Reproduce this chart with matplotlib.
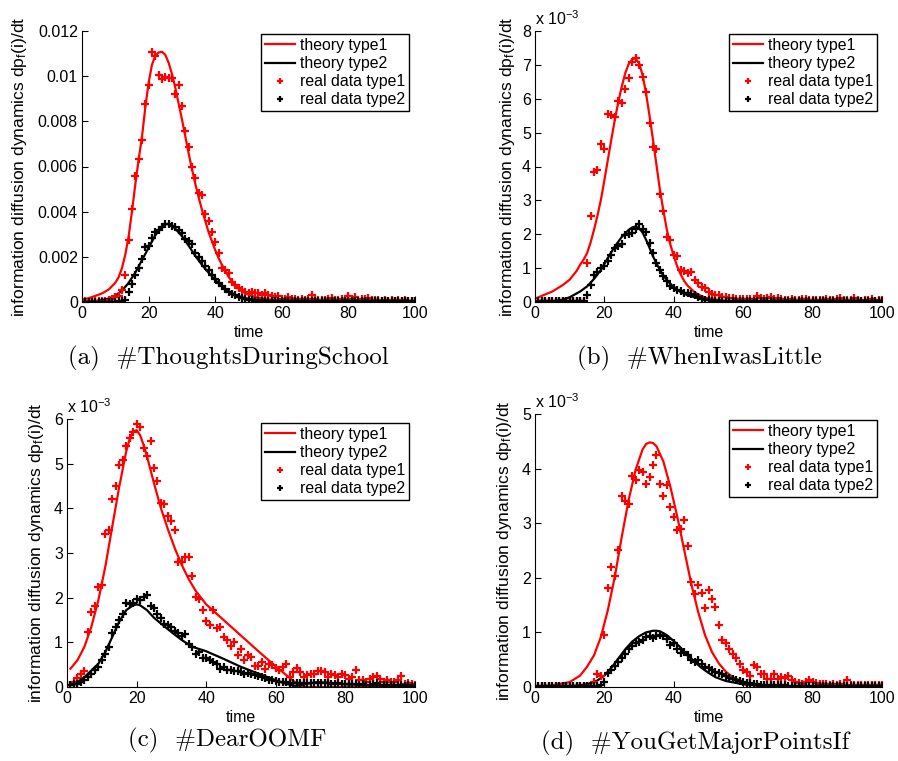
import numpy as np
import matplotlib
matplotlib.use("Agg")
import matplotlib.pyplot as plt
from matplotlib.ticker import FuncFormatter

plt.rcParams.update({
    "font.family": ["Liberation Sans", "DejaVu Sans"],
    "font.size": 11.5,
    "mathtext.fontset": "custom",
    "mathtext.rm": "Liberation Sans",
    "mathtext.it": "Liberation Sans:italic",
    "xtick.direction": "in", "ytick.direction": "in",
    "xtick.major.size": 4, "ytick.major.size": 4,
    "axes.linewidth": 0.8,
})

RED = "#ff0000"
BLACK = "#000000"

# time axis of the measured data
t_data = list(range(1, 101))

# ---------------- (a) #ThoughtsDuringSchool  (values x 1e-3) ----------------
a_red = [0.03, 0.03, 0.03, 0.04, 0.04, 0.05, 0.06, 0.08, 0.15, 0.2,
         0.25, 0.55, 1.19, 2.74, 4.1, 5.59, 6.33, 7.17, 8.76, 9.63,
         11.08, 10.9, 10.04, 9.87, 9.97, 9.93, 9.9, 9.19, 9.63, 8.67,
         7.57, 6.87, 5.99, 5.47, 4.81, 4.76, 3.88, 3.58, 3.11, 2.67,
         2.15, 1.49, 1.42, 1.27, 0.9, 0.75, 0.6, 0.53, 0.46, 0.38,
         0.46, 0.38, 0.38, 0.33, 0.38, 0.3, 0.25, 0.2, 0.25, 0.15,
         0.15, 0.2, 0.12, 0.15, 0.1, 0.12, 0.1, 0.12, 0.3, 0.12,
         0.08, 0.1, 0.08, 0.12, 0.18, 0.1, 0.08, 0.12, 0.15, 0.28,
         0.15, 0.2, 0.1, 0.12, 0.15, 0.18, 0.1, 0.08, 0.1, 0.06,
         0.08, 0.05, 0.08, 0.06, 0.1, 0.05, 0.08, 0.05, 0.06, 0.05]
a_black = [0.02, 0.02, 0.02, 0.02, 0.02, 0.02, 0.02, 0.02, 0.02, 0.02,
           0.03, 0.05, 0.1, 0.45, 0.8, 1.2, 1.5, 1.9, 2.45, 2.5,
           2.85, 3.1, 3.2, 3.3, 3.45, 3.45, 3.38, 3.3, 3.2, 3.05,
           2.8, 2.7, 2.55, 2.15, 2.0, 1.8, 1.6, 1.4, 1.2, 1.0,
           0.85, 0.7, 0.58, 0.45, 0.35, 0.3, 0.22, 0.18, 0.12, 0.1,
           0.08, 0.06, 0.05, 0.04, 0.04, 0.04, 0.04, 0.03, 0.04, 0.03,
           0.03, 0.04, 0.03, 0.03, 0.03, 0.03, 0.03, 0.03, 0.03, 0.03,
           0.03, 0.03, 0.03, 0.03, 0.03, 0.03, 0.03, 0.03, 0.03, 0.03,
           0.03, 0.03, 0.03, 0.03, 0.03, 0.03, 0.03, 0.03, 0.03, 0.03,
           0.03, 0.03, 0.03, 0.03, 0.03, 0.03, 0.03, 0.03, 0.03, 0.03]
a_th1_t = [0, 2, 4, 6, 8, 10, 11, 12, 13, 14, 15, 16, 17, 18, 19, 20, 21, 22, 23, 24,
           25, 26, 27, 28, 29, 30, 31, 32, 33, 34, 35, 36, 37, 38, 39, 40, 41, 42, 43,
           44, 45, 46, 47, 48, 50, 52, 55, 60, 70, 80, 100]
a_th1 = [0.1, 0.17, 0.27, 0.38, 0.55, 0.85, 1.1, 1.5, 2.1, 2.9, 4.0, 5.2, 6.3, 7.3, 8.6, 9.7,
         10.5, 10.9, 11.05, 11.08, 10.95, 10.6, 10.1, 9.5, 8.8, 8.1, 7.35, 6.6, 5.9,
         5.25, 4.65, 4.1, 3.6, 3.1, 2.7, 2.3, 1.95, 1.65, 1.38, 1.12, 0.92, 0.75, 0.6,
         0.48, 0.32, 0.22, 0.13, 0.06, 0.02, 0.01, 0.0]
a_th2_t = [0, 4, 6, 8, 10, 12, 14, 16, 18, 20, 22, 24, 25, 26, 27, 28, 30, 32, 34,
           36, 38, 40, 42, 44, 46, 48, 50, 55, 60, 70, 100]
a_th2 = [0.0, 0.04, 0.08, 0.15, 0.28, 0.5, 0.85, 1.3, 1.85, 2.4, 2.95, 3.35, 3.45,
         3.45, 3.38, 3.25, 2.92, 2.5, 2.05, 1.65, 1.3, 0.98, 0.7, 0.48, 0.32, 0.21,
         0.14, 0.05, 0.02, 0.005, 0.0]

# ---------------- (b) #WhenIwasLittle ----------------
b_red = [0.03] * 14 + [
         1.15, 2.55, 3.83, 3.9, 4.67, 4.52,
         5.55, 5.52, 5.47, 5.93, 5.87, 6.3, 6.62, 7.09, 7.2, 6.99,
         6.65, 6.2, 5.27, 4.58, 4.53, 3.2, 2.68, 1.93, 1.83, 1.39,
         1.35, 0.94, 0.92, 0.85, 0.88, 0.65, 0.55, 0.45, 0.42, 0.3,
         0.25, 0.22, 0.2, 0.15, 0.15, 0.12, 0.12, 0.1, 0.1, 0.08,
         0.08, 0.1, 0.08, 0.18, 0.12, 0.1, 0.12, 0.15, 0.1, 0.12,
         0.08, 0.06, 0.05, 0.08, 0.06, 0.05, 0.08, 0.1, 0.05, 0.06,
         0.05, 0.06, 0.05, 0.08, 0.06, 0.05, 0.1, 0.12, 0.05, 0.06,
         0.05, 0.12, 0.05, 0.04, 0.06, 0.05, 0.08, 0.04, 0.05, 0.06]
b_black = [0.02] * 14 + [
           0.22, 0.51, 0.8, 0.9, 1.0, 1.05,
           1.2, 1.4, 1.6, 1.65, 1.7, 1.98, 2.02, 2.05, 2.15, 2.3,
           2.15, 2.08, 1.74, 1.44, 1.15, 0.95, 0.76, 0.61, 0.48, 0.41,
           0.36, 0.33, 0.28, 0.27, 0.25, 0.22, 0.14, 0.1, 0.07, 0.05,
           0.04, 0.03, 0.03, 0.03, 0.03, 0.03, 0.02, 0.03, 0.02, 0.03,
           0.02, 0.03, 0.02, 0.02, 0.03, 0.02, 0.02, 0.03, 0.02, 0.02,
           0.02, 0.02, 0.02, 0.02, 0.02, 0.02, 0.02, 0.02, 0.02, 0.02,
           0.02, 0.02, 0.02, 0.02, 0.02, 0.02, 0.02, 0.02, 0.02, 0.02,
           0.02, 0.02, 0.02, 0.02, 0.02, 0.02, 0.02, 0.02, 0.02, 0.02]
b_th1_t = [0, 1, 5, 8, 10, 12, 13, 14, 15, 16, 17, 18, 19, 20, 21, 22, 23, 24, 25, 26,
           27, 28, 28.5, 29, 30, 31, 32, 33, 34, 35, 36, 37, 38, 39, 40, 41, 42, 43,
           44, 46, 48, 50, 55, 60, 100]
b_th1 = [0.1, 0.14, 0.31, 0.5, 0.66, 0.92, 1.1, 1.25, 1.44, 1.75, 2.13, 2.55, 3.02,
         3.6, 4.2, 4.8, 5.38, 5.9, 6.36, 6.75, 7.03, 7.15, 7.19, 7.17, 7.05, 6.7,
         6.16, 5.5, 4.79, 4.05, 3.31, 2.7, 2.13, 1.7, 1.35, 1.05, 0.81, 0.62, 0.48,
         0.29, 0.17, 0.1, 0.03, 0.01, 0.0]
b_th2_t = [0, 5, 8, 10, 13, 15, 17, 19, 21, 23, 25, 27, 28, 29, 30, 31, 32, 33, 34,
           35, 36, 37, 38, 40, 42, 44, 46, 48, 50, 55, 60, 100]
b_th2 = [0.0, 0.02, 0.07, 0.14, 0.31, 0.46, 0.68, 0.95, 1.3, 1.64, 1.92, 2.13, 2.2,
         2.23, 2.18, 2.05, 1.84, 1.6, 1.35, 1.14, 0.95, 0.78, 0.64, 0.44, 0.29, 0.2,
         0.14, 0.1, 0.06, 0.02, 0.01, 0.0]

# ---------------- (c) #DearOOMF ----------------
c_red = [0.04, 0.11, 0.2, 0.28, 0.36, 1.23, 1.68, 1.82, 2.23, 2.28,
         3.43, 3.51, 4.21, 4.51, 4.97, 5.08, 5.4, 5.57, 5.72, 5.89,
         5.82, 5.34, 5.17, 5.51, 4.9, 4.62, 4.11, 4.1, 3.82, 3.71,
         3.52, 2.8, 2.8, 2.9, 2.91, 2.48, 2.02, 1.96, 1.72, 1.48,
         1.38, 1.72, 1.31, 1.35, 1.12, 1.05, 0.92, 1.0, 0.72, 0.85,
         0.6, 0.72, 0.68, 0.47, 0.46, 0.55, 0.41, 0.52, 0.49, 0.43,
         0.37, 0.45, 0.52, 0.22, 0.34, 0.43, 0.34, 0.22, 0.26, 0.3,
         0.3, 0.35, 0.35, 0.33, 0.22, 0.3, 0.26, 0.22, 0.3, 0.26,
         0.19, 0.22, 0.39, 0.15, 0.15, 0.11, 0.19, 0.22, 0.24, 0.19,
         0.11, 0.15, 0.11, 0.11, 0.15, 0.24, 0.07, 0.09, 0.07, 0.04]
c_black = [0.04, 0.06, 0.07, 0.11, 0.15, 0.22, 0.3, 0.39, 0.45, 0.6,
           0.75, 0.9, 1.2, 1.35, 1.49, 1.64, 1.88, 1.85, 1.87, 1.98,
           1.94, 2.02, 2.07, 1.81, 1.76, 1.64, 1.55, 1.42, 1.38, 1.35,
           1.26, 1.2, 1.14, 1.18, 0.97, 0.9, 0.75, 0.78, 0.66, 0.64,
           0.6, 0.56, 0.52, 0.41, 0.45, 0.39, 0.37, 0.36, 0.35, 0.34,
           0.3, 0.31, 0.28, 0.26, 0.24, 0.22, 0.2, 0.16, 0.15, 0.13,
           0.12, 0.11, 0.11, 0.1, 0.1, 0.09, 0.1, 0.1, 0.09, 0.09,
           0.09, 0.08, 0.08, 0.09, 0.08, 0.07, 0.07, 0.08, 0.07, 0.06,
           0.07, 0.06, 0.06, 0.05, 0.06, 0.05, 0.05, 0.06, 0.1, 0.05,
           0.05, 0.04, 0.05, 0.04, 0.04, 0.04, 0.03, 0.04, 0.03, 0.03]
c_th1_t = [1, 3, 5, 7, 9, 11, 13, 15, 17, 18, 19, 20, 21, 22, 23, 25, 27, 29, 31, 33,
           35, 37, 40, 45, 50, 55, 60, 65, 67, 68, 100]
c_th1 = [0.41, 0.6, 0.9, 1.35, 1.94, 2.69, 3.59, 4.48, 5.27, 5.55, 5.72, 5.75, 5.64,
         5.42, 5.16, 4.56, 4.0, 3.53, 3.1, 2.73, 2.41, 2.15, 1.85, 1.5, 1.15, 0.8,
         0.46, 0.14, 0.02, 0.0, 0.0]
c_th2_t = [1, 3, 5, 7, 9, 11, 13, 15, 17, 19, 20, 21, 23, 25, 27, 30, 33, 36, 40, 45,
           50, 55, 60, 63, 66, 68, 72, 76, 80, 90, 100]
c_th2 = [0.04, 0.11, 0.22, 0.37, 0.52, 0.78, 1.12, 1.46, 1.72, 1.83, 1.85, 1.83,
         1.72, 1.55, 1.42, 1.23, 1.05, 0.9, 0.8, 0.63, 0.45, 0.3, 0.15, 0.07, 0.02,
         0.06, 0.11, 0.09, 0.06, 0.03, 0.02]

# ---------------- (d) #YouGetMajorPointsIf ----------------
d_red = [0.02] * 16 + [
         0.09, 0.24, 0.2, 0.96,
         1.81, 2.19, 2.04, 2.51, 3.5, 3.4, 3.35, 3.87, 3.79, 3.98,
         3.93, 3.71, 3.84, 4.07, 4.24, 3.72, 3.5, 3.7, 3.29, 3.11,
         2.88, 2.89, 3.06, 2.58, 1.93, 1.71, 1.87, 1.73, 1.44, 1.77,
         1.62, 1.46, 1.13, 0.86, 0.8, 0.69, 0.61, 0.54, 0.42, 0.31,
         0.28, 0.21, 0.4, 0.37, 0.24, 0.23, 0.15, 0.15, 0.24, 0.15,
         0.18, 0.17, 0.2, 0.12, 0.09, 0.07, 0.06, 0.09, 0.12, 0.09,
         0.07, 0.05, 0.05, 0.06, 0.04, 0.05, 0.04, 0.05, 0.04, 0.13,
         0.04, 0.03, 0.04, 0.03, 0.04, 0.03, 0.04, 0.03, 0.03, 0.03]
d_black = [0.01] * 18 + [
           0.03, 0.09,
           0.26, 0.31, 0.38, 0.46, 0.54, 0.6, 0.7, 0.75, 0.8, 0.83,
           0.86, 0.92, 0.93, 0.9, 0.93, 0.95, 0.93, 0.87, 0.77, 0.8,
           0.69, 0.62, 0.64, 0.58, 0.5, 0.46, 0.5, 0.42, 0.37, 0.34,
           0.31, 0.28, 0.26, 0.23, 0.2, 0.17, 0.15, 0.12, 0.11, 0.09,
           0.08, 0.07, 0.06, 0.05, 0.04, 0.04, 0.04, 0.03, 0.03, 0.03,
           0.03, 0.03, 0.02, 0.02, 0.02, 0.02, 0.02, 0.02, 0.02, 0.02,
           0.02, 0.02, 0.02, 0.02, 0.02, 0.01, 0.01, 0.01, 0.01, 0.01,
           0.01, 0.01, 0.01, 0.01, 0.01, 0.01, 0.01, 0.01, 0.01, 0.01]
d_th1_t = [0, 5, 10, 13, 15, 17, 19, 21, 23, 25, 27, 29, 31, 32, 33, 34, 35, 37, 39,
           41, 43, 45, 47, 49, 51, 53, 55, 57, 60, 65, 70, 100]
d_th1 = [0.01, 0.03, 0.09, 0.21, 0.37, 0.58, 0.92, 1.41, 2.02, 2.75, 3.43, 3.98,
         4.35, 4.45, 4.48, 4.47, 4.41, 4.13, 3.67, 3.12, 2.51, 1.9, 1.38, 0.95, 0.64,
         0.43, 0.28, 0.18, 0.09, 0.03, 0.01, 0.0]
d_th2_t = [0, 10, 15, 18, 20, 22, 24, 26, 28, 30, 32, 34, 35, 36, 38, 40, 42, 44, 46,
           48, 50, 52, 55, 60, 65, 70, 100]
d_th2 = [0.0, 0.01, 0.05, 0.12, 0.21, 0.35, 0.52, 0.69, 0.83, 0.93, 1.0, 1.03, 1.03,
         1.02, 0.95, 0.84, 0.72, 0.58, 0.46, 0.35, 0.26, 0.18, 0.11, 0.05, 0.02,
         0.01, 0.0]

captions = ["(a)  #ThoughtsDuringSchool", "(b)  #WhenIwasLittle",
            "(c)  #DearOOMF", "(d)  #YouGetMajorPointsIf"]
y_tops = [12, 8, 6, 5]

W, H = 898, 761
# axes boxes in pixels: left, right, top, bottom
boxes = [(82, 415, 31, 302), (535, 882, 31, 302),
         (67, 415, 419, 687), (535, 882, 414, 687)]
cap_xy = [(228, 358), (699, 358), (227, 740), (695, 743)]
ylab_x = [29, 517, 46, 514]   # right edge of the rotated y label
leg_anchor = [(0.982, 0.989), (0.986, 0.989), (0.983, 0.985), (0.986, 0.978)]

panels = [
    (a_red, a_black, a_th1_t, a_th1, a_th2_t, a_th2),
    (b_red, b_black, b_th1_t, b_th1, b_th2_t, b_th2),
    (c_red, c_black, c_th1_t, c_th1, c_th2_t, c_th2),
    (d_red, d_black, d_th1_t, d_th1, d_th2_t, d_th2),
]

fig = plt.figure(figsize=(W / 100, H / 100), dpi=100)

for i, (red, black, t1, th1, t2, th2) in enumerate(panels):
    l, r, top, bot = boxes[i]
    ax = fig.add_axes([l / W, 1 - bot / H, (r - l) / W, (bot - top) / H])
    scale = 1e-3 if i == 0 else 1.0

    ax.plot(t1, np.array(th1) * scale, color=RED, lw=1.6, label="theory type1")
    ax.plot(t2, np.array(th2) * scale, color=BLACK, lw=1.6, label="theory type2")
    ax.plot(t_data, np.array(red) * scale, "+", color=RED, ms=6, mew=1.6,
            label="real data type1")
    ax.plot(t_data, np.array(black) * scale, "+", color=BLACK, ms=6, mew=1.6,
            label="real data type2")

    ax.set_xlim(0, 100)
    ax.set_ylim(0, y_tops[i] * scale)
    ax.set_xticks([0, 20, 40, 60, 80, 100])
    if i == 0:
        ax.set_yticks(np.arange(0, 13, 2) * 1e-3)
        ax.yaxis.set_major_formatter(FuncFormatter(lambda v, p: "%g" % round(v, 4)))
    else:
        ax.set_yticks(range(0, y_tops[i] + 1))
        ax.text(0.0, 1.012, r"x 10$^{-3}$", transform=ax.transAxes,
                ha="left", va="bottom", fontsize=11.5)
    for s in ("top", "right"):
        ax.spines[s].set_visible(False)
    ax.tick_params(top=False, right=False, pad=3)

    ax.set_xlabel("time", fontsize=11.5)
    ax.xaxis.set_label_coords(0.5, -0.085)
    ax.set_ylabel(r"information diffusion dynamics dp$_{\mathrm{f}}$(i)/dt", fontsize=12.6)
    ax.yaxis.set_label_coords((ylab_x[i] - l) / (r - l), 0.5)

    leg = ax.legend(loc="upper right", bbox_to_anchor=leg_anchor[i], fontsize=11.4,
                    numpoints=1, markerscale=0.7, handlelength=1.9, handletextpad=0.3,
                    labelspacing=0.2, borderpad=0.25, borderaxespad=0,
                    fancybox=False, framealpha=1)
    leg.get_frame().set_edgecolor("black")
    leg.get_frame().set_linewidth(1.0)

    cx, cy = cap_xy[i]
    fig.text(cx / W, 1 - cy / H, captions[i], ha="center", va="center",
             fontsize=18, family=["cmr10", "DejaVu Serif"])

fig.savefig("out.png", dpi=100)
